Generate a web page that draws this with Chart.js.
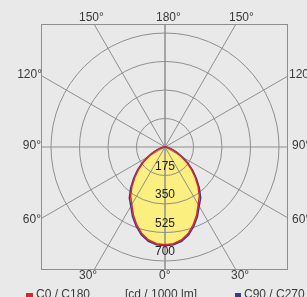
<!DOCTYPE html>
<html>
<head>
<meta charset="utf-8">
<script src="https://cdn.jsdelivr.net/npm/chart.js@4"></script>
<style>
  html, body { margin: 0; padding: 0; background: #e9e9e9; }
  #wrap { width: 307px; height: 297px; position: relative; }
</style>
</head>
<body>
<div id="wrap"><canvas id="polar"></canvas></div>
<script>
// gamma angles (deg, 0 = straight down) and luminous intensity in cd / 1000 lm
const gammaAngles = [0, 5, 10, 15, 20, 25, 30, 35, 40, 45, 50, 55, 60, 65, 70, 75, 80, 85, 90];
const c0c180 = [600, 596, 580, 550, 508, 460, 408, 368, 316, 262, 210, 160, 114, 78, 50, 29, 14, 5, 0];
const c90c270 = [606, 602, 588, 560, 518, 472, 420, 382, 328, 272, 221, 171, 123, 85, 55, 32, 16, 6, 0];

const rings = [175, 350, 525, 700];
const spokes = [0, 30, 60, 90, 120, 150, 180];
const unitLabel = '[cd / 1000 lm]';

const RED = '#d8262b';
const BLUE = '#3d3a8e';
const FILL = '#fbef80';
const GRID = '#8e8e8e';
const TEXT = '#3a3a3a';
const FONT = '12px "Liberation Sans", Arial, sans-serif';

// px per cd: 700 ring has radius 114px
const k = 114 / 700;

function toPoints(values) {
    const pts = [];
    for (let i = 0; i < gammaAngles.length; i++) {
        const g = gammaAngles[i] * Math.PI / 180;
        pts.push({ x: values[i] * Math.sin(g), y: -values[i] * Math.cos(g) });
    }
    for (let i = gammaAngles.length - 1; i >= 0; i--) {
        const g = gammaAngles[i] * Math.PI / 180;
        pts.push({ x: -values[i] * Math.sin(g), y: -values[i] * Math.cos(g) });
    }
    return pts;
}

const polarGrid = {
    id: 'polarGrid',
    beforeDatasetsDraw(chart) {
        const { ctx, chartArea: a, scales: { x, y } } = chart;
        const cx = x.getPixelForValue(0);
        const cy = y.getPixelForValue(0);
        ctx.save();
        ctx.beginPath();
        ctx.rect(a.left, a.top, a.right - a.left, a.bottom - a.top);
        ctx.clip();
        ctx.strokeStyle = GRID;
        ctx.lineWidth = 1;
        rings.forEach(r => {
            const rp = x.getPixelForValue(r) - cx;
            ctx.beginPath();
            ctx.arc(cx, cy, rp, 0, Math.PI * 2);
            ctx.stroke();
        });
        spokes.forEach(s => {
            const g = s * Math.PI / 180;
            [1, -1].forEach(side => {
                ctx.beginPath();
                ctx.moveTo(cx, cy);
                ctx.lineTo(cx + side * 400 * Math.sin(g), cy + 400 * Math.cos(g));
                ctx.stroke();
            });
        });
        ctx.restore();

        // ring values
        ctx.save();
        ctx.fillStyle = '#222';
        ctx.font = FONT;
        ctx.textAlign = 'center';
        ctx.textBaseline = 'middle';
        rings.forEach(r => {
            ctx.fillText(String(r), cx, y.getPixelForValue(-r) - 9);
        });
        ctx.restore();
    },
    afterDraw(chart) {
        const { ctx, chartArea: a } = chart;
        ctx.save();
        ctx.strokeStyle = GRID;
        ctx.lineWidth = 1;
        ctx.strokeRect(a.left + 0.5, a.top + 0.5, a.right - a.left - 1, a.bottom - a.top - 1);

        ctx.fillStyle = TEXT;
        ctx.font = FONT;
        ctx.textBaseline = 'middle';
        // top
        ctx.textAlign = 'left';
        ctx.fillText('150°', 79, 18);
        ctx.fillText('180°', 156, 18);
        ctx.fillText('150°', 229, 18);
        // sides
        ctx.textAlign = 'right';
        ctx.fillText('120°', 42, 75);
        ctx.fillText('90°', 41, 146);
        ctx.fillText('60°', 41, 220);
        ctx.textAlign = 'left';
        ctx.fillText('120°', 289, 75);
        ctx.fillText('90°', 292, 146);
        ctx.fillText('60°', 292, 220);
        // bottom
        ctx.fillText('30°', 79, 276);
        ctx.fillText('0°', 159, 276);
        ctx.fillText('30°', 231, 276);

        // legend row
        ctx.textBaseline = 'alphabetic';
        ctx.fillStyle = RED;
        ctx.fillRect(26, 293, 7, 4);
        ctx.fillStyle = BLUE;
        ctx.fillRect(235, 293, 6, 4);
        ctx.fillStyle = TEXT;
        ctx.fillText('C0 / C180', 36, 298);
        ctx.fillText(unitLabel, 125, 298);
        ctx.fillText('C90 / C270', 244, 298);
        ctx.restore();
    }
};

const ctx = document.getElementById('polar').getContext('2d');
new Chart(ctx, {
    type: 'scatter',
    data: {
        datasets: [
            {
                label: 'C0 / C180',
                data: toPoints(c0c180),
                showLine: true,
                borderColor: RED,
                borderWidth: 1.5,
                pointRadius: 0,
                fill: false,
                tension: 0
            },
            {
                label: 'C90 / C270',
                data: toPoints(c90c270),
                showLine: true,
                borderColor: BLUE,
                borderWidth: 1.5,
                backgroundColor: FILL,
                pointRadius: 0,
                fill: 'shape',
                tension: 0
            }
        ]
    },
    options: {
        responsive: true,
        maintainAspectRatio: false,
        animation: false,
        layout: { padding: { left: 41, right: 19, top: 24, bottom: 27 } },
        plugins: {
            legend: { display: false },
            tooltip: { enabled: false },
            filler: { drawTime: 'beforeDraw' }
        },
        scales: {
            x: { type: 'linear', display: false, min: -124 / k, max: 123 / k },
            y: { type: 'linear', display: false, min: -123 / k, max: 123 / k }
        }
    },
    plugins: [polarGrid]
});
</script>
</body>
</html>
